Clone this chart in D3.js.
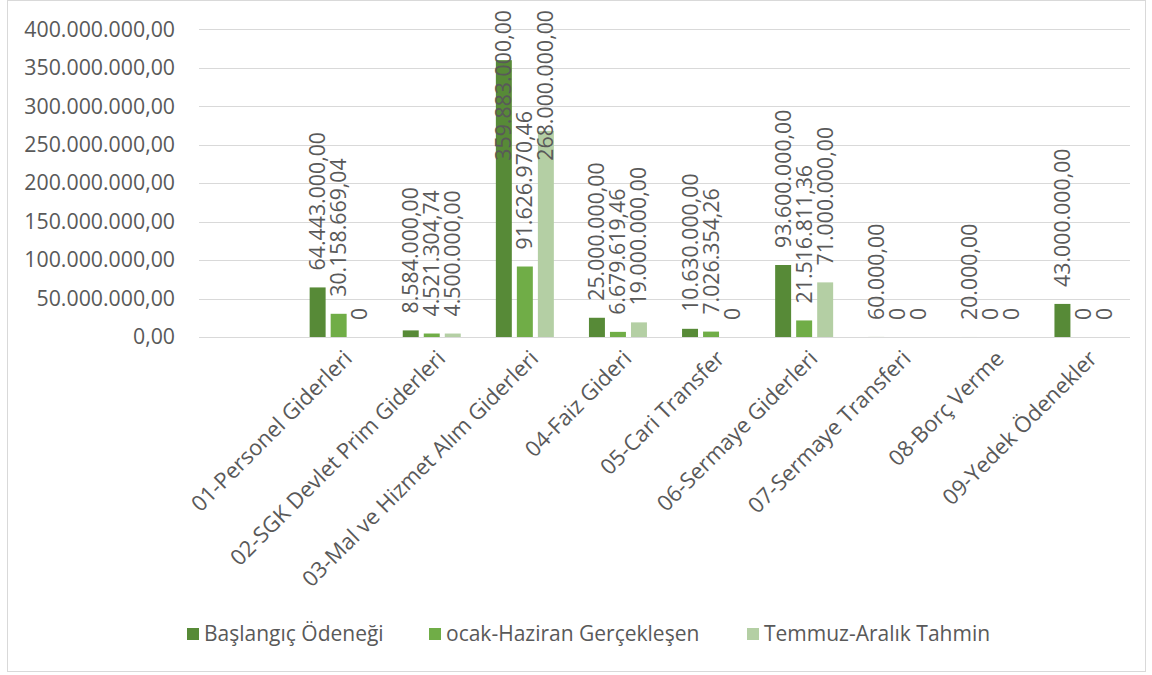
<!DOCTYPE html>
<html>
<head>
<meta charset="utf-8">
<script src="https://cdn.jsdelivr.net/npm/d3@7"></script>
<style>
  html, body { margin: 0; padding: 0; background: #fff; }
  svg { display: block; font-family: "Open Sans", "Noto Sans", sans-serif; }
</style>
</head>
<body>
<svg id="chart" width="1152" height="675"></svg>
<script>
// Budget lines (economic classification)
const categories = [
  "01-Personel Giderleri",
  "02-SGK Devlet Prim Giderleri",
  "03-Mal ve Hizmet Alım Giderleri",
  "04-Faiz Gideri",
  "05-Cari Transfer",
  "06-Sermaye Giderleri",
  "07-Sermaye Transferi",
  "08-Borç Verme",
  "09-Yedek Ödenekler"
];
const seriesNames = ["Başlangıç Ödeneği", "ocak-Haziran Gerçekleşen", "Temmuz-Aralık Tahmin"];
const baslangic = [64443000, 8584000, 359883000, 25000000, 10630000, 93600000, 60000, 20000, 43000000];
const ocakHaziran = [30158669.04, 4521304.74, 91626970.46, 6679619.46, 7026354.26, 21516811.36, 0, 0, 0];
const temmuzAralik = [0, 4500000, 268000000, 19000000, 0, 71000000, 0, 0, 0];
const yTicks = [0, 50000000, 100000000, 150000000, 200000000, 250000000, 300000000, 350000000, 400000000];

const seriesValues = [baslangic, ocakHaziran, temmuzAralik];
const colors = ["#578a37", "#70ad47", "#b4cfa4"];
const textColor = "#595959";
const gridColor = "#d9d9d9";

const trLocale = d3.formatLocale({ decimal: ",", thousands: ".", grouping: [3], currency: ["", " TL"] });
const fmt2 = trLocale.format(",.2f");
const labelFmt = v => v === 0 ? "0" : fmt2(v);

const svg = d3.select("#chart");

// chart-area border
svg.append("rect")
  .attr("x", 7.5).attr("y", 0.5).attr("width", 1138).attr("height", 671)
  .attr("fill", "#fff").attr("stroke", gridColor).attr("stroke-width", 1);

const plot = { left: 199, right: 1130, top: 29.3, bottom: 337 };

// leading empty slot on the category axis
const x = d3.scaleBand()
  .domain(["", ...categories])
  .range([plot.left, plot.right])
  .paddingInner(0).paddingOuter(0);

const xInner = d3.scaleBand()
  .domain(d3.range(seriesNames.length))
  .range([-29, 29])
  .paddingInner(0.24).paddingOuter(0);

const y = d3.scaleLinear().domain([0, 400000000]).range([plot.bottom, plot.top]);

// gridlines
svg.append("g")
  .selectAll("line")
  .data(yTicks)
  .join("line")
  .attr("x1", plot.left).attr("x2", plot.right)
  .attr("y1", d => Math.round(y(d)) + 0.5).attr("y2", d => Math.round(y(d)) + 0.5)
  .attr("stroke", gridColor).attr("stroke-width", 1.2);

// y axis labels
const yAxis = d3.axisLeft(y).tickValues(yTicks).tickFormat(d => fmt2(d)).tickSize(0).tickPadding(0);
const yG = svg.append("g").attr("transform", `translate(175,0)`).call(yAxis);
yG.select(".domain").remove();
yG.selectAll("text")
  .attr("fill", textColor)
  .attr("font-size", 21.3)
  .attr("font-family", "'Open Sans', sans-serif");

// bars
const flat = [];
seriesValues.forEach((vals, s) => vals.forEach((v, i) => flat.push({ s, i, v })));

const cx = d => x(categories[d.i]) + x.bandwidth() / 2 + xInner(d.s);

svg.append("g")
  .selectAll("rect")
  .data(flat.filter(d => d.v > 0))
  .join("rect")
  .attr("x", d => cx(d))
  .attr("width", xInner.bandwidth())
  .attr("y", d => y(d.v))
  .attr("height", d => y(0) - y(d.v))
  .attr("fill", d => colors[d.s]);

// vertical value labels above bars
const labels = svg.append("g")
  .selectAll("text")
  .data(flat)
  .join("text")
  .text(d => labelFmt(d.v))
  .attr("fill", textColor)
  .attr("font-size", 21.3)
  .attr("text-anchor", "start")
  .attr("dy", "0.35em");

labels.each(function (d) {
  const len = this.getComputedTextLength();
  let start = y(d.v) - 17;          // bottom end of the rotated label
  const topLimit = 10;
  if (start - len < topLimit) start = topLimit + len;
  const px = cx(d) + xInner.bandwidth() / 2;
  d3.select(this).attr("transform", `translate(${px},${start}) rotate(-90)`);
});

// category labels at -45°
svg.append("g")
  .selectAll("text")
  .data(categories)
  .join("text")
  .text(d => d)
  .attr("fill", textColor)
  .attr("font-size", 22)
  .attr("text-anchor", "end")
  .attr("dy", "0.7em")
  .attr("transform", d => `translate(${x(d) + x.bandwidth() / 2 + 4},${349}) rotate(-45)`);

// legend
const legendX = [187, 429, 747];
const legend = svg.append("g")
  .selectAll("g")
  .data(seriesNames)
  .join("g")
  .attr("transform", (d, i) => `translate(${legendX[i]},634)`);
legend.append("rect")
  .attr("x", 0).attr("y", -6).attr("width", 12).attr("height", 12)
  .attr("fill", (d, i) => colors[i]);
legend.append("text")
  .attr("x", 17).attr("dy", "0.35em")
  .attr("fill", textColor)
  .attr("font-size", 21)
  .text(d => d);
</script>
</body>
</html>
